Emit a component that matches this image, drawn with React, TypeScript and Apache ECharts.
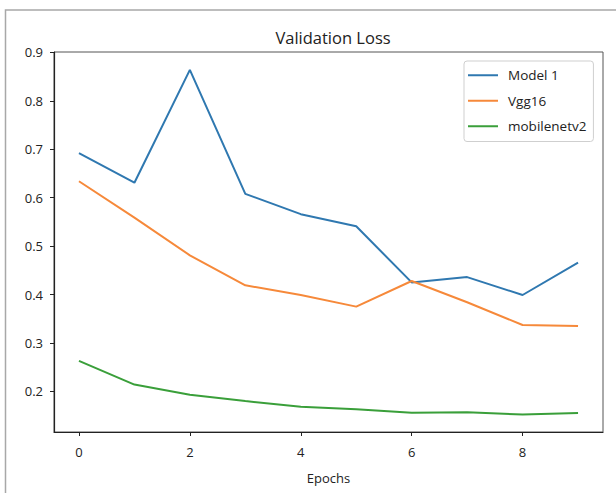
import React, { useEffect, useRef } from "react";
import * as echarts from "echarts";

const epochs = [0, 1, 2, 3, 4, 5, 6, 7, 8, 9];
const model1 = [0.692, 0.631, 0.864, 0.608, 0.566, 0.541, 0.425, 0.436, 0.399, 0.466];
const vgg16 = [0.634, 0.559, 0.481, 0.419, 0.399, 0.375, 0.428, 0.384, 0.337, 0.335];
const mobilenetv2 = [0.263, 0.214, 0.193, 0.18, 0.168, 0.163, 0.156, 0.157, 0.152, 0.155];
const xTicks = [0, 2, 4, 6, 8];
const yTicks = [0.2, 0.3, 0.4, 0.5, 0.6, 0.7, 0.8, 0.9];
const seriesNames = ["Model 1", "Vgg16", "mobilenetv2"];
const colors = ["#2f78b0", "#f6893a", "#3a9f3a"];

export default function App() {
  const ref = useRef<HTMLDivElement>(null);
  useEffect(() => {
    if (!ref.current) return;
    const chart = echarts.init(ref.current, undefined, { renderer: "svg" });
    const font = "Open Sans";
    const data = [model1, vgg16, mobilenetv2];
    chart.setOption({
      animation: false,
      backgroundColor: "#ffffff",
      title: {
        text: "Validation Loss",
        left: 328,
        top: 24,
        textAlign: "center",
        textStyle: { fontFamily: font, fontSize: 16.5, fontWeight: "normal", color: "#222" },
      },
      graphic: [
        {
          type: "rect",
          shape: { x: 5.5, y: 10, width: 700, height: 600 },
          style: { fill: "none", stroke: "#a8a8a8", lineWidth: 1.5 },
          silent: true,
        },
      ],
      grid: {
        left: 54,
        right: 13,
        top: 52,
        bottom: 61,
        show: true,
        borderColor: "#555",
        borderWidth: 1,
        backgroundColor: "transparent",
      },
      legend: {
        orient: "vertical",
        left: 464,
        top: 61,
        backgroundColor: "#fff",
        borderColor: "#cfcfcf",
        borderWidth: 1,
        borderRadius: 3,
        padding: [6, 7, 7, 4],
        itemGap: 9,
        itemWidth: 30,
        itemHeight: 2,
        icon: "rect",
        data: seriesNames,
        textStyle: {
          fontFamily: font,
          fontSize: 13.5,
          color: "#222",
          lineHeight: 16.5,
          padding: [0, 0, 0, 5],
        },
      },
      xAxis: {
        type: "value",
        min: -0.45,
        max: 9.45,
        name: "Epochs",
        nameLocation: "middle",
        nameGap: 39,
        nameTextStyle: { fontFamily: font, fontSize: 13, color: "#222" },
        axisLine: { show: true, onZero: false, lineStyle: { color: "#222", width: 1.2 } },
        axisTick: { show: true, inside: false, length: 4, customValues: xTicks, lineStyle: { color: "#222" } },
        axisLabel: {
          customValues: xTicks,
          margin: 13,
          fontFamily: font,
          fontSize: 13,
          color: "#222",
          formatter: (v: number) => String(v),
        },
        splitLine: { show: false },
      },
      yAxis: {
        type: "value",
        min: 0.116,
        max: 0.901,
        axisLine: { show: true, onZero: false, lineStyle: { color: "#222", width: 1.2 } },
        axisTick: { show: true, inside: false, length: 4, customValues: yTicks, lineStyle: { color: "#222" } },
        axisLabel: {
          customValues: yTicks,
          margin: 11,
          fontFamily: font,
          fontSize: 13,
          color: "#222",
          formatter: (v: number) => v.toFixed(1),
        },
        splitLine: { show: false },
      },
      series: seriesNames.map((name, i) => ({
        name,
        type: "line",
        data: epochs.map((e, j) => [e, data[i][j]]),
        showSymbol: false,
        symbol: "none",
        color: colors[i],
        lineStyle: { color: colors[i], width: 2 },
      })),
    });
    return () => chart.dispose();
  }, []);
  return (
    <div
      ref={ref}
      style={{ position: "fixed", left: 0, top: 0, width: 616, height: 493 }}
    />
  );
}
